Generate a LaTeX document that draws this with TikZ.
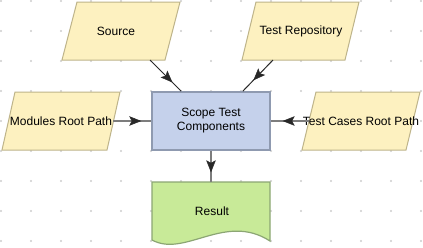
\documentclass[tikz,border=0pt]{standalone}
\usepackage{fontspec}
\setmainfont{Liberation Sans}
\usetikzlibrary{arrows.meta,decorations.markings,calc}
\definecolor{dotc}{RGB}{205,205,205}
\definecolor{yfill}{RGB}{253,241,192}
\definecolor{ydraw}{RGB}{190,180,138}
\definecolor{bfill}{RGB}{197,209,235}
\definecolor{bdraw}{RGB}{143,154,176}
\definecolor{gfill}{RGB}{200,234,152}
\definecolor{gdraw}{RGB}{140,166,116}
\definecolor{edgeg}{RGB}{125,125,125}
\definecolor{edged}{RGB}{40,40,40}
\begin{document}
\begin{tikzpicture}[x=1pt,y=-1pt,
  paraS/.style={fill=yfill,draw=ydraw,line width=1pt},
  lbl/.style={inner sep=0pt,font=\fontsize{12}{14}\selectfont,text=black},
  procbox/.style={fill=bfill,draw=bdraw,line width=1.6pt,minimum width=118pt,minimum height=58pt,inner sep=0pt,align=center,font=\fontsize{12}{14}\selectfont},
  docS/.style={fill=gfill,draw=gdraw,line width=1.2pt},
  midarrow/.style={postaction={decorate},decoration={markings,mark=at position #1 with {\arrow{Stealth[length=12pt,width=9.5pt,inset=2.5pt,color=edged,line width=0.5pt]}}}},
  edgeG/.style={draw=edgeg,line width=1.5pt},
  edgeD/.style={draw=edged,line width=1pt}]
\useasboundingbox (0,0) rectangle (423,247);
\fill[white] (0,0) rectangle (423,247);
% grid dots
\foreach \i in {0,...,14}{\foreach \j in {0,...,8}{\fill[dotc] (1+30*\i,1+30*\j) circle (1.1);}}
% parallelograms
\draw[paraS] (77,2) -- (180,2) -- (165,60) -- (62,60) -- cycle;
\draw[paraS] (256,2) -- (359,2) -- (345,60) -- (242,60) -- cycle;
\draw[paraS] (15,92) -- (120,92) -- (107,150) -- (2,150) -- cycle;
\draw[paraS] (316,92) -- (420,92) -- (406,150) -- (302,150) -- cycle;
\node[lbl] (src) at (116,31) {Source};
\node[lbl] (repo) at (301,31) {Test Repository};
\node[lbl] (mods) at (61,121) {Modules Root Path};
\node[lbl] (cases) at (361,121) {Test Cases Root Path};
% process box
\node[procbox] (scope) at (211,121) {Scope Test\\Components};
% result document
\draw[docS] (152,182) -- (270,182) -- (270,241) .. controls (225,212) and (185,258) .. (152,240) -- cycle;
\node[lbl] (result) at (212,211) {Result};
% connection points
\coordinate (srcout) at (150,60);
\coordinate (repoout) at (273,60);
\coordinate (modsout) at (113,121);
\coordinate (casesout) at (309,121);
\coordinate (resin) at (211,182);
% connectors
\path[edgeD,midarrow=0.72] (srcout) -- ($(scope.north west)+(30,0)$);
\path[edgeD,midarrow=0.65] (repoout) -- ($(scope.north east)+(-28,0)$);
\path[edgeG,midarrow=0.74] (modsout) -- (scope.west);
\path[edgeG,midarrow=0.69] (casesout) -- (scope.east);
\path[edgeG,midarrow=0.69] (scope.south) -- (resin);
\end{tikzpicture}
\end{document}
